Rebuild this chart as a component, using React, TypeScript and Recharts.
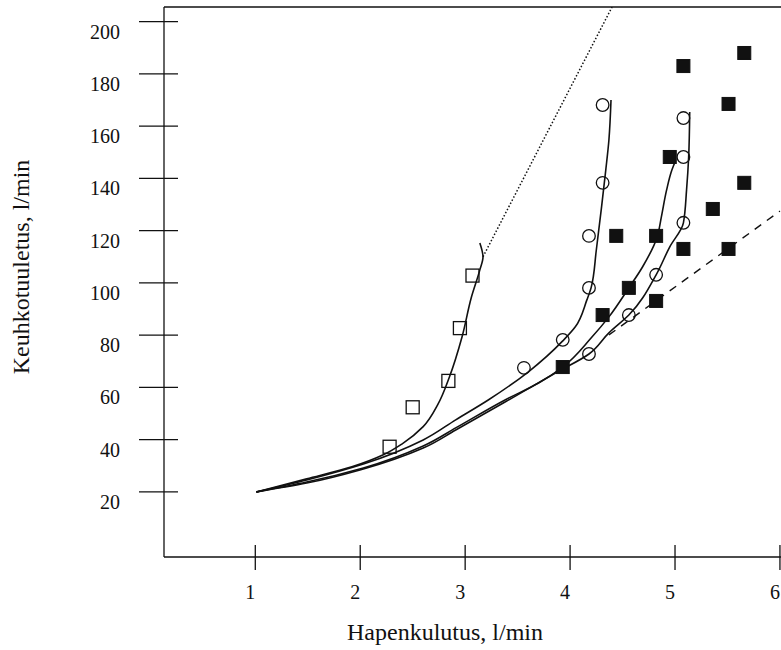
import { ComposedChart, Line, Scatter, XAxis, YAxis, ReferenceLine } from 'recharts';

const xTicks = [1, 2, 3, 4, 5, 6];
const yTicks = [20, 40, 60, 80, 100, 120, 140, 160, 180, 200];

// mittauspisteet
const openSquares = [
  { x: 2.28, y: 37.3 },
  { x: 2.5, y: 52.4 },
  { x: 2.84, y: 62.5 },
  { x: 2.95, y: 82.7 },
  { x: 3.07, y: 102.8 },
];

const openCircles = [
  { x: 4.31, y: 168.1 },
  { x: 4.31, y: 138.3 },
  { x: 4.18, y: 118.0 },
  { x: 4.18, y: 98.1 },
  { x: 3.93, y: 78.2 },
  { x: 3.56, y: 67.5 },
  { x: 5.08, y: 163.1 },
  { x: 5.08, y: 148.2 },
  { x: 5.08, y: 123.0 },
  { x: 4.82, y: 103.1 },
  { x: 4.56, y: 87.7 },
  { x: 4.18, y: 72.8 },
];

const filledSquares = [
  { x: 5.66, y: 188.0 },
  { x: 5.08, y: 183.0 },
  { x: 5.51, y: 168.5 },
  { x: 4.95, y: 148.2 },
  { x: 5.66, y: 138.3 },
  { x: 5.36, y: 128.3 },
  { x: 4.44, y: 118.0 },
  { x: 4.82, y: 118.0 },
  { x: 5.08, y: 113.0 },
  { x: 5.51, y: 113.0 },
  { x: 4.56, y: 98.1 },
  { x: 4.82, y: 93.1 },
  { x: 4.31, y: 87.7 },
  { x: 3.93, y: 67.8 },
];

// sovitetut käyrät
const curveSquares = [
  { x: 1.01, y: 20.0 },
  { x: 1.49, y: 25.0 },
  { x: 1.92, y: 29.6 },
  { x: 2.22, y: 34.2 },
  { x: 2.4, y: 38.4 },
  { x: 2.6, y: 45.0 },
  { x: 2.74, y: 53.5 },
  { x: 2.85, y: 64.0 },
  { x: 2.97, y: 79.3 },
  { x: 3.06, y: 94.6 },
  { x: 3.14, y: 105.0 },
  { x: 3.17, y: 109.9 },
  { x: 3.14, y: 115.3 },
];

const curveCirclesLeft = [
  { x: 1.01, y: 20.0 },
  { x: 1.49, y: 24.6 },
  { x: 2.03, y: 30.7 },
  { x: 2.6, y: 39.9 },
  { x: 2.91, y: 47.6 },
  { x: 3.22, y: 55.2 },
  { x: 3.6, y: 65.9 },
  { x: 3.93, y: 77.8 },
  { x: 4.05, y: 83.2 },
  { x: 4.16, y: 93.5 },
  { x: 4.2, y: 98.1 },
  { x: 4.25, y: 112.6 },
  { x: 4.3, y: 129.1 },
  { x: 4.34, y: 143.2 },
  { x: 4.37, y: 154.7 },
  { x: 4.39, y: 170.0 },
];

const curveFilled = [
  { x: 1.01, y: 20.0 },
  { x: 1.49, y: 23.8 },
  { x: 2.03, y: 29.2 },
  { x: 2.6, y: 37.6 },
  { x: 2.91, y: 44.5 },
  { x: 3.38, y: 55.2 },
  { x: 3.7, y: 61.7 },
  { x: 3.93, y: 67.8 },
  { x: 4.2, y: 78.9 },
  { x: 4.37, y: 87.0 },
  { x: 4.56, y: 98.1 },
  { x: 4.69, y: 106.1 },
  { x: 4.83, y: 117.6 },
  { x: 4.87, y: 125.3 },
  { x: 4.92, y: 135.6 },
  { x: 4.97, y: 143.2 },
  { x: 5.0, y: 146.3 },
];

const curveCirclesRight = [
  { x: 1.01, y: 20.0 },
  { x: 1.49, y: 23.4 },
  { x: 2.03, y: 28.8 },
  { x: 2.6, y: 36.8 },
  { x: 2.91, y: 43.7 },
  { x: 3.38, y: 54.4 },
  { x: 3.86, y: 65.5 },
  { x: 4.18, y: 72.8 },
  { x: 4.37, y: 80.9 },
  { x: 4.56, y: 87.7 },
  { x: 4.82, y: 103.1 },
  { x: 4.95, y: 113.8 },
  { x: 5.08, y: 123.0 },
  { x: 5.11, y: 135.6 },
  { x: 5.13, y: 148.2 },
  { x: 5.14, y: 165.4 },
];

const dottedLine = [
  { x: 3.17, y: 110.0 },
  { x: 4.4, y: 205.6 },
];

const dashedLine = [
  { x: 4.37, y: 80.1 },
  { x: 6.0, y: 127.5 },
];

const FONT = "'Liberation Serif', 'Times New Roman', serif";
const INK = '#111';

const renderXTick = ({ x, y, payload }: any) => (
  <g>
    <line x1={x} x2={x} y1={y - 12} y2={y + 13} stroke={INK} strokeWidth={1.3} />
    <text x={x - 5} y={y + 42} textAnchor="middle" fontSize={20} fontFamily={FONT} fill={INK}>
      {payload.value}
    </text>
  </g>
);

const renderYTick = ({ x, y, payload }: any) => (
  <g>
    <line x1={x - 25} x2={x + 14} y1={y} y2={y} stroke={INK} strokeWidth={1.3} />
    <text x={x - 44} y={y + 17} textAnchor="end" fontSize={20} fontFamily={FONT} fill={INK}>
      {payload.value}
    </text>
  </g>
);

const openSquare = ({ cx, cy }: any) => (
  <rect x={cx - 6.5} y={cy - 6.5} width={13} height={13} fill="none" stroke={INK} strokeWidth={1.3} />
);

const filledSquare = ({ cx, cy }: any) => (
  <rect x={cx - 6.5} y={cy - 6.5} width={13} height={13} fill={INK} stroke={INK} strokeWidth={1} />
);

const openCircle = ({ cx, cy }: any) => (
  <circle cx={cx} cy={cy} r={6.3} fill="none" stroke={INK} strokeWidth={1.3} />
);

const xTitle = () => (
  <text x={445} y={640} textAnchor="middle" fontSize={24} fontFamily={FONT} fill={INK}>
    Hapenkulutus, l/min
  </text>
);

const yTitle = () => (
  <text
    x={29}
    y={267}
    transform="rotate(-90 29 267)"
    textAnchor="middle"
    fontSize={24}
    fontFamily={FONT}
    fill={INK}
  >
    Keuhkotuuletus, l/min
  </text>
);

const curveProps = {
  dataKey: 'y',
  stroke: INK,
  dot: false,
  activeDot: false,
  isAnimationActive: false,
} as const;

export default function App() {
  return (
    <div style={{ width: 781, height: 650, background: '#fff' }}>
      <style>{'body{margin:0;background:#fff}'}</style>
      <ComposedChart width={781} height={650} margin={{ top: 7, right: 0, bottom: 0, left: 0 }}>
        <XAxis
          type="number"
          dataKey="x"
          domain={[0.13, 6.01]}
          allowDataOverflow
          ticks={xTicks}
          interval={0}
          height={93}
          tickSize={0}
          tickMargin={0}
          tickLine={false}
          axisLine={{ stroke: INK, strokeWidth: 1.3 }}
          tick={renderXTick}
          label={xTitle}
        />
        <YAxis
          type="number"
          dataKey="y"
          domain={[-4.9, 205.6]}
          allowDataOverflow
          ticks={yTicks}
          interval={0}
          width={164}
          tickSize={0}
          tickMargin={0}
          tickLine={false}
          axisLine={{ stroke: INK, strokeWidth: 1.3 }}
          tick={renderYTick}
          label={yTitle}
        />
        <ReferenceLine y={205.6} stroke={INK} strokeWidth={1.3} ifOverflow="visible" />

        <Line {...curveProps} data={curveSquares} type="monotoneY" strokeWidth={1.6} />
        <Line {...curveProps} data={curveCirclesLeft} type="monotoneY" strokeWidth={1.6} />
        <Line {...curveProps} data={curveFilled} type="monotoneY" strokeWidth={1.6} />
        <Line {...curveProps} data={curveCirclesRight} type="monotoneY" strokeWidth={1.6} />
        <Line {...curveProps} data={dottedLine} type="linear" strokeWidth={1.5} strokeDasharray="1.5 2" />
        <Line {...curveProps} data={dashedLine} type="linear" strokeWidth={1.4} strokeDasharray="8 7" />

        <Scatter data={openSquares} shape={openSquare} isAnimationActive={false} />
        <Scatter data={openCircles} shape={openCircle} isAnimationActive={false} />
        <Scatter data={filledSquares} shape={filledSquare} isAnimationActive={false} />
      </ComposedChart>
    </div>
  );
}
